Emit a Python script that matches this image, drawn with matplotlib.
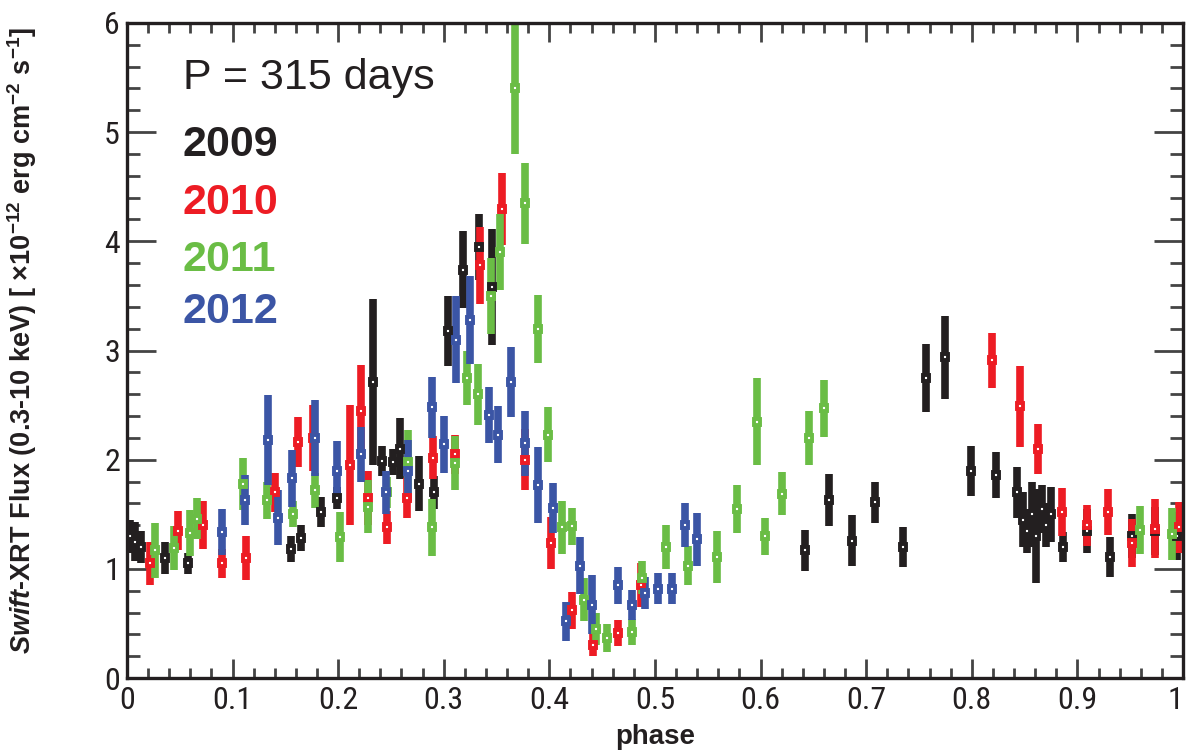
import matplotlib
matplotlib.use("Agg")
import matplotlib.pyplot as plt
from matplotlib.ticker import MultipleLocator

plt.rcParams['font.family'] = ['Liberation Sans', 'DejaVu Sans']
plt.rcParams['mathtext.fontset'] = 'custom'
plt.rcParams['mathtext.rm'] = 'Liberation Sans:bold'
plt.rcParams['mathtext.it'] = 'Liberation Sans:bold:italic'
plt.rcParams['mathtext.bf'] = 'Liberation Sans:bold'

# folded light curve, one block per year: phase, flux, 1-sigma error
ph_2009 = [0.003, 0.008, 0.013, 0.036, 0.058, 0.155, 0.165, 0.184, 0.199, 0.233,
           0.242, 0.252, 0.259, 0.277, 0.291, 0.304, 0.318, 0.333, 0.346, 0.642,
           0.665, 0.687, 0.708, 0.735, 0.757, 0.775, 0.799, 0.823, 0.843, 0.848,
           0.852, 0.857, 0.861, 0.866, 0.870, 0.875, 0.886, 0.909, 0.931, 0.952,
           0.973, 0.994]
fx_2009 = [1.30, 1.25, 1.20, 1.10, 1.05, 1.18, 1.28, 1.52, 1.65, 2.71,
           1.99, 1.98, 2.10, 1.78, 1.70, 3.18, 3.74, 3.95, 3.58, 1.17,
           1.63, 1.26, 1.61, 1.20, 2.75, 2.94, 1.90, 1.86, 1.70, 1.45,
           1.35, 1.50, 1.30, 1.55, 1.40, 1.50, 1.20, 1.35, 1.11, 1.30,
           1.35, 1.30]
er_2009 = [0.15, 0.18, 0.15, 0.15, 0.10, 0.12, 0.12, 0.14, 0.10, 0.76,
           0.14, 0.12, 0.28, 0.25, 0.15, 0.32, 0.35, 0.30, 0.53, 0.19,
           0.24, 0.23, 0.19, 0.18, 0.31, 0.38, 0.23, 0.21, 0.23, 0.25,
           0.20, 0.30, 0.43, 0.22, 0.20, 0.25, 0.14, 0.20, 0.18, 0.20,
           0.22, 0.22]

ph_2010 = [0.022, 0.048, 0.072, 0.090, 0.113, 0.140, 0.162, 0.176, 0.211, 0.222,
           0.228, 0.246, 0.265, 0.290, 0.311, 0.334, 0.355, 0.377, 0.402, 0.421,
           0.441, 0.465, 0.487, 0.819, 0.846, 0.863, 0.885, 0.909, 0.929, 0.952,
           0.973, 0.996]
fx_2010 = [1.05, 1.35, 1.40, 1.05, 1.10, 1.70, 2.16, 2.20, 1.95, 2.45,
           1.65, 1.38, 1.65, 2.02, 2.05, 3.78, 4.30, 2.00, 1.24, 0.62,
           0.30, 0.41, 0.85, 2.91, 2.49, 2.10, 1.52, 1.40, 1.52, 1.24,
           1.37, 1.38]
er_2010 = [0.20, 0.18, 0.22, 0.13, 0.20, 0.18, 0.23, 0.30, 0.55, 0.42,
           0.25, 0.15, 0.18, 0.20, 0.18, 0.35, 0.33, 0.28, 0.24, 0.17,
           0.10, 0.12, 0.20, 0.25, 0.37, 0.23, 0.22, 0.19, 0.21, 0.22,
           0.27, 0.23]

ph_2011 = [0.027, 0.045, 0.060, 0.066, 0.110, 0.133, 0.157, 0.178, 0.202, 0.228,
           0.246, 0.266, 0.289, 0.311, 0.322, 0.332, 0.345, 0.353, 0.367, 0.377,
           0.389, 0.399, 0.412, 0.421, 0.433, 0.444, 0.455, 0.478, 0.488, 0.510,
           0.531, 0.559, 0.578, 0.597, 0.604, 0.620, 0.646, 0.660, 0.959, 0.990]
fx_2011 = [1.17, 1.19, 1.33, 1.46, 1.78, 1.63, 1.50, 1.72, 1.29, 1.57,
           1.70, 1.98, 1.38, 1.97, 2.75, 2.60, 3.50, 3.90, 5.40, 4.35,
           3.20, 2.23, 1.38, 1.39, 0.72, 0.45, 0.37, 0.42, 0.92, 1.20,
           1.03, 1.11, 1.55, 2.35, 1.30, 1.69, 2.20, 2.47, 1.36, 1.32]
er_2011 = [0.25, 0.20, 0.21, 0.19, 0.24, 0.17, 0.12, 0.16, 0.23, 0.24,
           0.14, 0.29, 0.26, 0.25, 0.25, 0.28, 0.35, 0.35, 0.60, 0.37,
           0.31, 0.25, 0.24, 0.17, 0.20, 0.15, 0.13, 0.12, 0.15, 0.20,
           0.18, 0.24, 0.22, 0.40, 0.17, 0.20, 0.25, 0.26, 0.22, 0.24]

ph_2012 = [0.090, 0.112, 0.134, 0.143, 0.156, 0.178, 0.199, 0.222, 0.245, 0.266,
           0.289, 0.300, 0.312, 0.325, 0.343, 0.351, 0.364, 0.377, 0.389, 0.403,
           0.416, 0.429, 0.440, 0.465, 0.478, 0.491, 0.503, 0.516, 0.528, 0.540]
fx_2012 = [1.34, 1.63, 2.18, 1.47, 1.83, 2.20, 1.90, 2.05, 1.70, 1.90,
           2.48, 2.14, 3.10, 3.28, 2.41, 2.23, 2.71, 2.15, 1.77, 1.56,
           0.52, 1.03, 0.67, 0.85, 0.67, 0.78, 0.82, 0.82, 1.40, 1.27]
er_2012 = [0.21, 0.23, 0.41, 0.25, 0.26, 0.35, 0.27, 0.25, 0.20, 0.28,
           0.28, 0.26, 0.40, 0.40, 0.26, 0.26, 0.32, 0.30, 0.35, 0.23,
           0.18, 0.26, 0.27, 0.17, 0.14, 0.15, 0.14, 0.14, 0.20, 0.24]

years = ['2009', '2010', '2011', '2012']
colors = ['#231f20', '#ed1c24', '#6abd45', '#3b55a5']
series = [(ph_2009, fx_2009, er_2009), (ph_2010, fx_2010, er_2010),
          (ph_2011, fx_2011, er_2011), (ph_2012, fx_2012, er_2012)]

phase_ticks = [0, 0.1, 0.2, 0.3, 0.4, 0.5, 0.6, 0.7, 0.8, 0.9, 1]
phase_labels = ['0', '0.1', '0.2', '0.3', '0.4', '0.5', '0.6', '0.7', '0.8', '0.9', '1']
flux_ticks = [0, 1, 2, 3, 4, 5, 6]

fig = plt.figure(figsize=(11.86, 7.51), dpi=100)
ax = fig.add_axes([0.107, 0.097, 0.8905, 0.8725])

for (x, y, e), c in zip(series, colors):
    ax.errorbar(x, y, yerr=e, fmt='s', color=c, ecolor=c, elinewidth=5.5,
                capsize=0, ms=5.0, mfc='white', mec=c, mew=2.8)

ax.set_xlim(0, 1)
ax.set_ylim(0, 6)
ax.set_xticks(phase_ticks)
ax.set_xticklabels(phase_labels)
ax.set_yticks(flux_ticks)
ax.xaxis.set_minor_locator(MultipleLocator(0.02))
ax.yaxis.set_minor_locator(MultipleLocator(0.2))

for s in ax.spines.values():
    s.set_linewidth(2.4)
    s.set_color('#231f20')
ax.tick_params(which='both', direction='in', top=True, right=True,
               color='#444444', width=2.0)
ax.tick_params(axis='x', which='major', length=14, pad=6)
ax.tick_params(axis='x', which='minor', length=7)
ax.tick_params(axis='y', which='major', length=21, pad=5)
ax.tick_params(axis='y', which='minor', length=9.5)

xlabels = ax.get_xticklabels()
for lab in xlabels + ax.get_yticklabels():
    lab.set_fontsize(23)
    lab.set_family(['Roboto Condensed', 'Liberation Sans'])
    lab.set_color('#231f20')
# last phase label sits on the figure edge
xlabels[-1].set_horizontalalignment('right')

ax.set_xlabel('phase', fontsize=20, fontweight='bold', color='#231f20')
ax.xaxis.set_label_coords(0.5, -0.07)
ax.set_ylabel(r'$\mathit{Swift}$-XRT Flux (0.3-10 keV) [ $\times$10$^{-12}$ erg cm$^{-2}$ s$^{-1}$]',
              fontsize=19.5, fontweight='bold', color='#231f20')
ax.yaxis.set_label_coords(-0.083, 0.516)

ax.text(0.053, 0.916, 'P = 315 days', transform=ax.transAxes, fontsize=31,
        ha='left', va='center', color='#231f20')
for yr, c, yy in zip(years, colors, [0.814, 0.725, 0.638, 0.559]):
    ax.text(0.053, yy, yr, transform=ax.transAxes, fontsize=31,
            fontweight='bold', ha='left', va='center', color=c)

fig.savefig('out.png', dpi=100)
